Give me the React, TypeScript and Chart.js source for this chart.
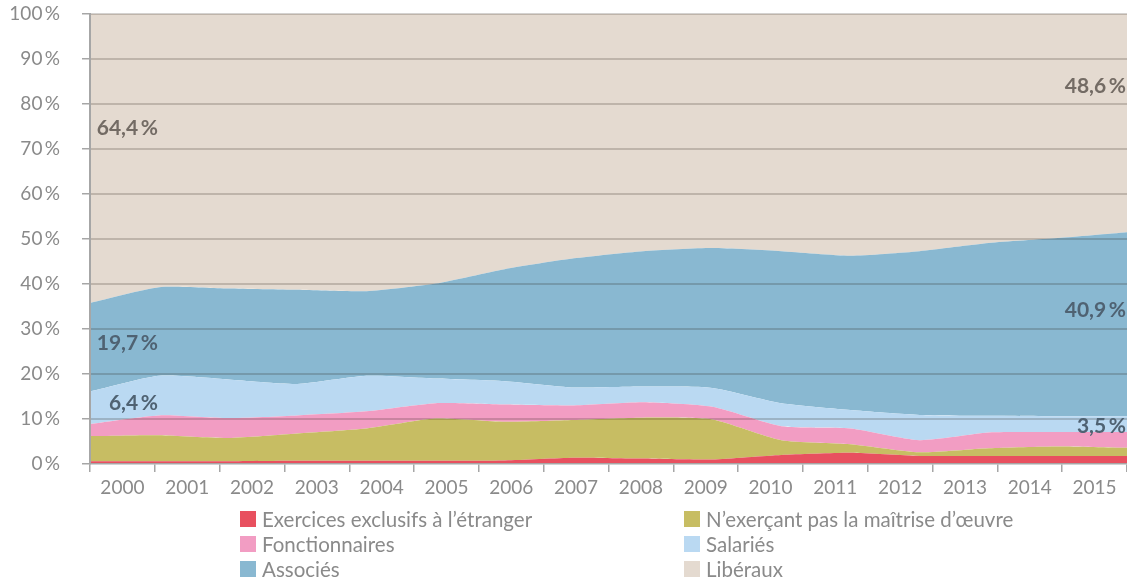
import React, { useEffect, useRef } from 'react';
import { Chart, registerables } from 'chart.js';

Chart.register(...registerables);

const years = ['2000', '2001', '2002', '2003', '2004', '2005', '2006', '2007', '2008', '2009', '2010', '2011', '2012', '2013', '2014', '2015'];

const exercicesEtranger = [0.6, 0.6, 0.6, 0.7, 0.7, 0.7, 0.8, 1.4, 1.2, 1.0, 2.0, 2.5, 1.8, 1.8, 1.8, 1.8];
const nExercant = [5.6, 5.8, 5.2, 6.1, 7.2, 9.4, 8.6, 8.4, 9.1, 8.9, 3.3, 1.9, 0.8, 1.7, 2.1, 1.8];
const fonctionnaires = [2.7, 4.4, 4.4, 4.0, 3.8, 3.4, 3.8, 3.2, 3.4, 2.8, 3.1, 3.5, 2.7, 3.5, 3.2, 3.5];
const salaries = [7.2, 8.8, 8.6, 7.0, 7.9, 5.5, 5.2, 4.0, 3.5, 4.2, 5.1, 4.1, 5.6, 3.7, 3.5, 3.5];
const associes = [19.7, 19.7, 20.2, 20.9, 18.8, 21.1, 24.9, 28.7, 30.1, 31.1, 33.8, 34.3, 36.4, 38.4, 39.6, 40.9];
const liberaux = [64.2, 60.7, 61.0, 61.3, 61.6, 59.9, 56.7, 54.3, 52.7, 52.0, 52.7, 53.7, 52.7, 50.9, 49.8, 48.5];

const yTickValues = [0, 10, 20, 30, 40, 50, 60, 70, 80, 90, 100];

const seriesNames = [
  'Exercices exclusifs à l’étranger',
  'N’exerçant pas la maîtrise d’œuvre',
  'Fonctionnaires',
  'Salariés',
  'Associés',
  'Libéraux',
];
const seriesColors = ['#e8505f', '#c7bd63', '#f29dc3', '#bad9f2', '#89b8d1', '#e4dad0'];
const seriesData = [exercicesEtranger, nExercant, fonctionnaires, salaries, associes, liberaux];

// annotation texts (value position on the y scale)
const leftNotes = [
  { text: '64,4\u2009%', at: 74.6, color: '#736b64' },
  { text: '19,7\u2009%', at: 26.9, color: '#4f6272' },
  { text: '6,4\u2009%', at: 13.6, color: '#4f6272' },
];
const rightNotes = [
  { text: '48,6\u2009%', at: 84.0, color: '#736b64' },
  { text: '40,9\u2009%', at: 34.2, color: '#4f6272' },
  { text: '3,5\u2009%', at: 8.4, color: '#4f6272' },
];

const FONT = 'Lato, "Open Sans", sans-serif';

const overlayPlugin = {
  id: 'overlay',
  afterDraw(chart: any) {
    const { ctx, chartArea, scales } = chart;
    const y = scales.y;
    ctx.save();
    // horizontal gridlines drawn over the areas
    ctx.fillStyle = 'rgba(40,30,20,0.2)';
    for (let k = 1; k < yTickValues.length; k++) {
      const py = Math.round(y.getPixelForValue(yTickValues[k]));
      ctx.fillRect(chartArea.left + 1, py - 1, chartArea.width - 1, 2);
    }
    // value notes
    ctx.font = `bold 21px ${FONT}`;
    ctx.textBaseline = 'middle';
    ctx.textAlign = 'right';
    leftNotes.forEach((n) => {
      ctx.fillStyle = n.color;
      ctx.fillText(n.text, chartArea.left + 68, y.getPixelForValue(n.at));
    });
    rightNotes.forEach((n) => {
      ctx.fillStyle = n.color;
      ctx.fillText(n.text, chartArea.right - 1, y.getPixelForValue(n.at));
    });
    ctx.restore();
  },
};

export default function App() {
  const canvasRef = useRef<HTMLCanvasElement | null>(null);

  useEffect(() => {
    if (!canvasRef.current) return;
    const chart = new Chart(canvasRef.current, {
      type: 'line',
      data: {
        labels: years,
        datasets: seriesData.map((d, i) => ({
          label: seriesNames[i],
          data: d,
          backgroundColor: seriesColors[i],
          borderColor: 'transparent',
          borderWidth: 0,
          pointRadius: 0,
          tension: 0.2,
          fill: i === 0 ? 'origin' : '-1',
          xAxisID: 'xd',
        })),
      },
      options: {
        responsive: false,
        animation: false,
        events: [],
        layout: { padding: { top: 14, right: 0, left: 0, bottom: 73 } },
        plugins: { legend: { display: false }, tooltip: { enabled: false } },
        scales: {
          xd: {
            type: 'category',
            labels: years,
            display: false,
            offset: false,
          },
          x: {
            type: 'category',
            labels: years,
            position: 'bottom',
            offset: true,
            grid: {
              offset: true,
              drawOnChartArea: false,
              tickLength: 8,
              tickColor: '#a6a6a6',
              lineWidth: 1.5,
            },
            border: { color: '#a6a6a6', width: 1.5, z: 2 },
            ticks: {
              color: '#8a8a8a',
              font: { family: FONT, size: 19 },
              padding: 4,
              maxRotation: 0,
              autoSkip: false,
            },
            afterFit: (s: any) => {
              s.height = 40;
              s.paddingLeft = 0;
              s.paddingRight = 0;
            },
          },
          y: {
            stacked: true,
            min: 0,
            max: 100,
            afterBuildTicks: (s: any) => {
              s.ticks = yTickValues.map((v) => ({ value: v }));
            },
            grid: {
              drawOnChartArea: false,
              tickLength: 8,
              tickColor: '#a6a6a6',
              lineWidth: 1.5,
            },
            border: { color: '#a6a6a6', width: 2, z: 2 },
            ticks: {
              color: '#8a8a8a',
              font: { family: FONT, size: 19 },
              padding: 22,
              callback: (v: any) => `${v}\u2009%`,
            },
            afterFit: (s: any) => {
              s.width = 90;
              s.paddingTop = 0;
              s.paddingBottom = 0;
            },
          },
        },
      },
      plugins: [overlayPlugin],
    });
    return () => chart.destroy();
  }, []);

  const legendRows = [
    [0, 1],
    [2, 3],
    [4, 5],
  ];
  const colLeft = [240, 684];

  return (
    <div style={{ position: 'absolute', left: 0, top: 0, width: 1127, height: 577, background: '#fff' }}>
      <canvas ref={canvasRef} width={1127} height={577} style={{ display: 'block' }} />
      {legendRows.map((row, r) =>
        row.map((idx, c) => (
          <div
            key={idx}
            style={{
              position: 'absolute',
              left: colLeft[c],
              top: 508 + r * 25,
              height: 22,
              display: 'flex',
              alignItems: 'center',
              fontFamily: FONT,
              fontSize: 20.5,
              color: '#8a8a8a',
              whiteSpace: 'nowrap',
            }}
          >
            <span style={{ display: 'inline-block', width: 16, height: 16, background: seriesColors[idx], marginRight: 6 }} />
            <span>{seriesNames[idx]}</span>
          </div>
        ))
      )}
    </div>
  );
}
